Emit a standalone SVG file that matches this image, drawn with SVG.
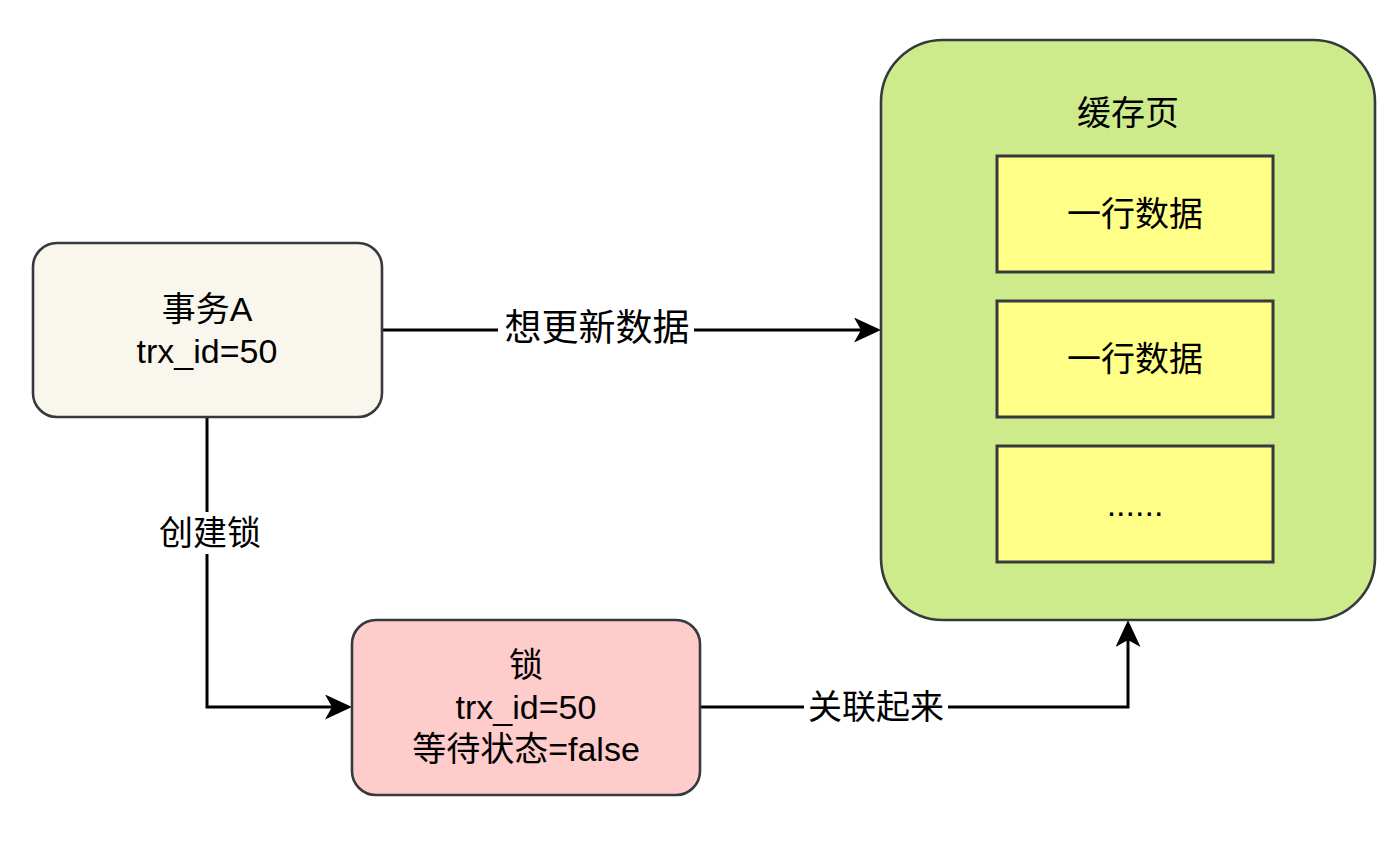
<svg xmlns="http://www.w3.org/2000/svg" width="1396" height="842" viewBox="0 0 1396 842">
<defs>
<style>
.t{font-family:"Liberation Sans","Noto Sans CJK SC",sans-serif;font-size:34px;fill:#000;text-anchor:middle}
.box{stroke:#36393d;stroke-width:2.6}
.row{fill:#ffff88;stroke:#36393d;stroke-width:3}
.edge{fill:none;stroke:#000;stroke-width:3}
</style>
<marker id="arr" markerUnits="userSpaceOnUse" viewBox="0 0 27 25" refX="7" refY="12.5" markerWidth="27" markerHeight="25" orient="auto">
<path d="M0,0 L27,12.5 L0,25 L7,12.5 Z" fill="#000"/>
</marker>
</defs>
<rect width="1396" height="842" fill="#fff"/>
<g id="connectors">
<path class="edge" d="M382,330 H861" marker-end="url(#arr)"/>
<path class="edge" d="M207,417 V707 H332" marker-end="url(#arr)"/>
<path class="edge" d="M700,707 H1128 V640" marker-end="url(#arr)"/>
<rect x="498" y="308" width="196" height="44" fill="#fff"/>
<text class="t" x="597" y="341" style="font-size:37px">想更新数据</text>
<rect x="156" y="512" width="108" height="42" fill="#fff"/>
<text class="t" x="210" y="545">创建锁</text>
<rect x="804" y="686" width="144" height="42" fill="#fff"/>
<text class="t" x="876" y="719">关联起来</text>
</g>
<g id="txA">
<rect class="box" x="33" y="243" width="349" height="174" rx="24" fill="#f9f7ed"/>
<text class="t" x="207" y="321">事务A</text>
<text class="t" x="207" y="363">trx_id=50</text>
</g>
<g id="lock">
<rect class="box" x="352" y="620" width="348" height="175" rx="24" fill="#ffcccc"/>
<text class="t" x="526" y="677">锁</text>
<text class="t" x="526" y="719">trx_id=50</text>
<text class="t" x="526" y="761">等待状态=false</text>
</g>
<g id="cache">
<rect class="box" x="881" y="40" width="494" height="580" rx="62" fill="#cdeb8b"/>
<text class="t" x="1128" y="125">缓存页</text>
</g>
<g id="row1">
<rect class="row" x="997" y="156" width="276" height="116"/>
<text class="t" x="1135" y="226">一行数据</text>
</g>
<g id="row2">
<rect class="row" x="997" y="301" width="276" height="116"/>
<text class="t" x="1135" y="371">一行数据</text>
</g>
<g id="row3">
<rect class="row" x="997" y="446" width="276" height="116"/>
<text class="t" x="1135" y="516">......</text>
</g>
</svg>
